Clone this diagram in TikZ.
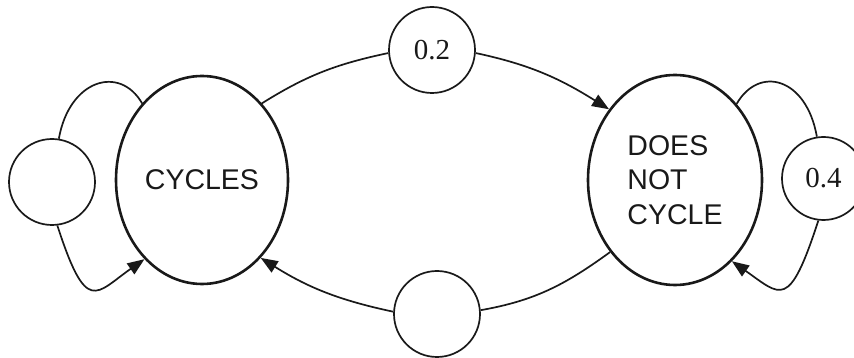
\documentclass[tikz,border=0pt]{standalone}
\usepackage{fontspec}
\setmainfont{Liberation Serif}
\setsansfont{Liberation Sans}
\usetikzlibrary{shapes.geometric,arrows.meta}

\begin{document}
\begin{tikzpicture}[x=1pt,y=1pt,
  ink/.style={draw=black!90},
  stateoval/.style={ellipse, ink, line width=2.6pt, inner sep=0pt,
    font=\sffamily\fontsize{28.5}{34.5}\selectfont, text=black!90},
  prob/.style={circle, ink, line width=1.7pt, inner sep=0pt,
    minimum size=86pt, font=\fontsize{29}{30}\selectfont, text=black!90},
  link/.style={ink, line width=1.7pt},
  arr/.style={link, -{Triangle[length=17pt,width=13pt]}}
]
\useasboundingbox (0,0) rectangle (854,358);
\clip (0,0) rectangle (854,358);

% the two states
\node[stateoval, minimum width=172pt, minimum height=208pt] (cyc) at (202,178) {CYCLES};
\node[stateoval, minimum width=174pt, minimum height=210pt, align=left] (dnc) at (675,178) {DOES\\NOT\\CYCLE};

% transition probabilities
\node[prob] (lp) at (52,176) {};
\node[prob, minimum size=83pt] (rp) at (823.5,179.5) {0.4};
\node[prob] (pt) at (432,308) {0.2};
\node[prob] (pb) at (437,44) {};

% CYCLES -> DOES NOT CYCLE
\draw[link] (cyc.52) to[out=32,in=192] (pt.184);
\draw[arr] (pt.-4) to[out=-12,in=148] (dnc.133);

% DOES NOT CYCLE -> CYCLES
\draw[link] (dnc.228) to[out=216,in=10] (pb.5);
\draw[arr] (pb.177) to[out=168,in=-32] (cyc.-53);

% self loop on CYCLES
\draw[link] (cyc.128) to[out=120,in=80,out distance=45pt,in distance=60pt] (lp.81);
\draw[arr] (lp.277) to[out=-72,in=215,out distance=95pt,in distance=60pt] (cyc.234.5);

% self loop on DOES NOT CYCLE
\draw[link] (dnc.51) to[out=60,in=100,out distance=45pt,in distance=60pt] (rp.99);
\draw[arr] (rp.263) to[out=-108,in=-35,out distance=95pt,in distance=60pt] (dnc.305);
\end{tikzpicture}
\end{document}
